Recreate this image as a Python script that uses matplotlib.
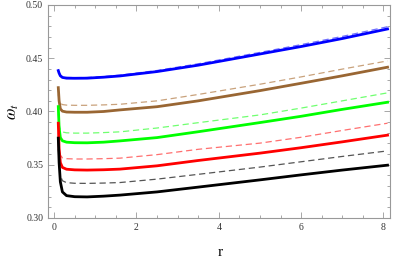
import numpy as np
import matplotlib.pyplot as plt
from matplotlib.ticker import MultipleLocator

r = [0.1, 0.12, 0.15, 0.2, 0.3, 0.5, 0.8, 1.2, 1.6, 2.5, 3.5, 5.0, 6.0, 7.0, 8.1]

# solid curves
blue_solid = [0.4384, 0.436, 0.4335, 0.432, 0.4313, 0.4312, 0.4313, 0.4322, 0.4334, 0.4375, 0.4435, 0.454, 0.461, 0.4685, 0.4775]
brown_solid = [0.4224, 0.410, 0.4025, 0.4003, 0.3995, 0.3993, 0.3993, 0.400, 0.4015, 0.4045, 0.410, 0.4196, 0.4265, 0.4335, 0.4416]
green_solid = [0.4046, 0.385, 0.3755, 0.3725, 0.3712, 0.3707, 0.3706, 0.3712, 0.3724, 0.3755, 0.381, 0.3896, 0.3955, 0.402, 0.4087]
red_solid = [0.389, 0.365, 0.352, 0.3475, 0.3458, 0.3452, 0.345, 0.3453, 0.3459, 0.349, 0.354, 0.3609, 0.366, 0.3715, 0.3778]
black_solid = [0.375, 0.352, 0.334, 0.3245, 0.321, 0.320, 0.3198, 0.3205, 0.3215, 0.3245, 0.329, 0.3358, 0.3405, 0.345, 0.3496]

# dashed curves
blue_dash = [0.4375, 0.436, 0.434, 0.4328, 0.432, 0.4318, 0.4319, 0.4328, 0.4342, 0.4385, 0.4448, 0.4555, 0.4628, 0.4705, 0.4796]
brown_dash = [0.416, 0.411, 0.408, 0.4065, 0.406, 0.4058, 0.4058, 0.4062, 0.4068, 0.410, 0.416, 0.4256, 0.4325, 0.4398, 0.4475]
green_dash = [0.398, 0.388, 0.383, 0.3808, 0.380, 0.3797, 0.3797, 0.3802, 0.3809, 0.3845, 0.3895, 0.3968, 0.4032, 0.410, 0.4175]
red_dash = [0.380, 0.365, 0.359, 0.3565, 0.3557, 0.3554, 0.3554, 0.3557, 0.3562, 0.3595, 0.3645, 0.3703, 0.3758, 0.3822, 0.389]
black_dash = [0.365, 0.350, 0.340, 0.335, 0.3332, 0.3326, 0.3325, 0.3328, 0.3333, 0.3365, 0.341, 0.3478, 0.3528, 0.3578, 0.363]

plt.rcParams['font.family'] = ['Liberation Serif', 'DejaVu Serif']
plt.rcParams['mathtext.fontset'] = 'stix'

fig = plt.figure(figsize=(3.95, 2.61), dpi=100)
ax = fig.add_axes([48/395, 1-218/261, (390-48)/395, (218-5)/261])

dashes = [(blue_dash, '#6f6fff'), (brown_dash, '#c9a27c'), (green_dash, '#70ff70'),
          (red_dash, '#ff6f6f'), (black_dash, '#555555')]
for y, c in dashes:
    ax.plot(r, y, color=c, lw=0.9, ls=(0, (5, 3)))

solids = [(blue_solid, '#0000ff'), (brown_solid, '#996633'), (green_solid, '#00ff00'),
          (red_solid, '#ff0000'), (black_solid, '#000000')]
for y, c in solids:
    ax.plot(r, y, color=c, lw=2.0)

ax.set_xlim(-0.15, 8.16)
ax.set_ylim(0.30, 0.50)
ax.xaxis.set_major_locator(MultipleLocator(2))
ax.xaxis.set_minor_locator(MultipleLocator(0.5))
ax.yaxis.set_major_locator(MultipleLocator(0.05))
ax.yaxis.set_minor_locator(MultipleLocator(0.01))
ax.yaxis.set_major_formatter(plt.FuncFormatter(lambda v, p: '%.2f' % v))

for s in ax.spines.values():
    s.set_color('#999999')
    s.set_linewidth(0.8)
ax.tick_params(which='both', direction='in', top=True, right=True, color='#999999',
               labelsize=7, labelcolor='#333333', width=0.6)
ax.tick_params(which='major', length=4)
ax.tick_params(which='minor', length=2)

fig.text(220/395, 1-252/261, 'r', fontsize=11, ha='center', va='center')
fig.text(13/395, 1-112/261, r'$\omega_t$', fontsize=12, ha='center', va='center', rotation=90)

fig.savefig('out.png', dpi=100)
